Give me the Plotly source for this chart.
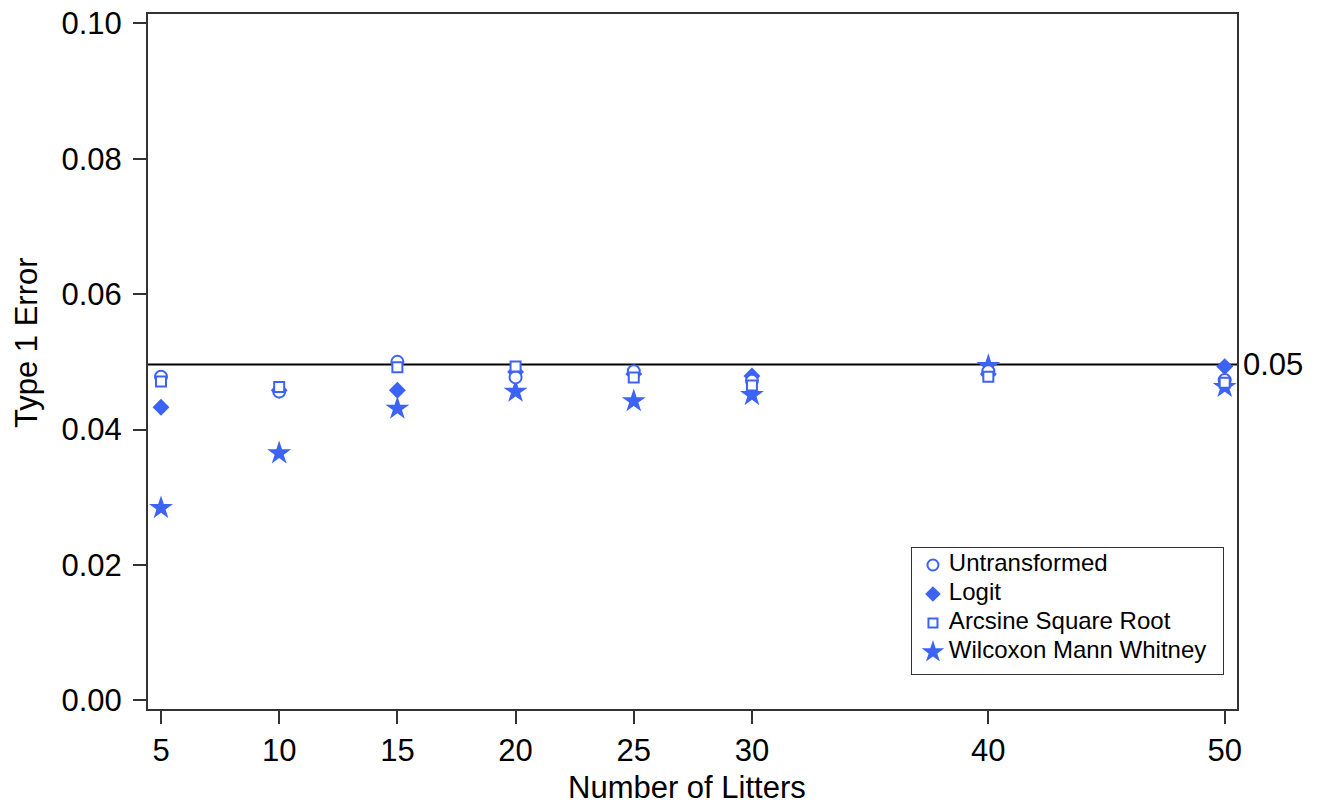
import plotly.graph_objects as go

# ---------------- data ----------------
litters = [5, 10, 15, 20, 25, 30, 40, 50]
untransformed = [0.0478, 0.0456, 0.0500, 0.0477, 0.0486, 0.0472, 0.0486, 0.0473]
logit = [0.0433, 0.0458, 0.0458, 0.0485, 0.0482, 0.0479, 0.0482, 0.0493]
arcsine = [0.0471, 0.0463, 0.0492, 0.0493, 0.0477, 0.0465, 0.0478, 0.0469]
wilcoxon = [0.0284, 0.0365, 0.0431, 0.0456, 0.0442, 0.0451, 0.0494, 0.0463]

series_names = ["Untransformed", "Logit", "Arcsine Square Root", "Wilcoxon Mann Whitney"]

x_ticks = [5, 10, 15, 20, 25, 30, 40, 50]
y_ticks = [0.00, 0.02, 0.04, 0.06, 0.08, 0.10]
ref_level = 0.0496
ref_label = "0.05"
x_title = "Number of Litters"
y_title = "Type 1 Error"

# ---------------- styles ----------------
BLUE = "#3D63F5"
FONT = "Liberation Sans, Arial, Helvetica, sans-serif"
styles = {
    "Untransformed": dict(symbol="circle", size=12, color="white", lw=2),
    "Logit": dict(symbol="diamond", size=13, color=BLUE, lw=0),
    "Arcsine Square Root": dict(symbol="square", size=10, color="white", lw=2),
    "Wilcoxon Mann Whitney": dict(symbol="star", size=18, color=BLUE, lw=0),
}
values = {
    "Untransformed": untransformed,
    "Logit": logit,
    "Arcsine Square Root": arcsine,
    "Wilcoxon Mann Whitney": wilcoxon,
}
draw_order = ["Logit", "Wilcoxon Mann Whitney", "Untransformed", "Arcsine Square Root"]

fig = go.Figure()

for name in draw_order:
    st = styles[name]
    fig.add_trace(go.Scatter(
        x=litters, y=values[name], mode="markers", name=name, showlegend=False,
        marker=dict(symbol=st["symbol"], size=st["size"], color=st["color"], opacity=1,
                    line=dict(width=st["lw"], color=BLUE)),
        xaxis="x", yaxis="y",
    ))

# legend drawn as a small inset panel (rows = series names on a category axis)
fig.add_trace(go.Scatter(
    x=[0.0667] * len(series_names), y=series_names, mode="markers", showlegend=False,
    hoverinfo="skip",
    marker=dict(symbol=[styles[n]["symbol"] for n in series_names],
                size=[styles[n]["size"] - 1 for n in series_names],
                color=[styles[n]["color"] for n in series_names],
                opacity=1,
                line=dict(width=[styles[n]["lw"] for n in series_names], color=BLUE)),
    xaxis="x2", yaxis="y2",
))
fig.add_trace(go.Scatter(
    x=[0.118] * len(series_names), y=series_names, mode="text", showlegend=False,
    hoverinfo="skip", text=series_names, textposition="middle right",
    textfont=dict(size=24, color="black", family=FONT),
    xaxis="x2", yaxis="y2",
))

fig.add_shape(type="line", xref="paper", x0=0, x1=1, yref="y", y0=ref_level, y1=ref_level,
              line=dict(color="black", width=2), layer="below")
fig.add_annotation(xref="paper", x=1, xanchor="left", xshift=4, yref="y", y=ref_level,
                   yanchor="middle", text=ref_label, showarrow=False,
                   font=dict(size=31, color="black", family=FONT))

# axis titles
fig.add_annotation(xref="paper", x=0.4947, xanchor="center", yref="paper", y=0,
                   yanchor="middle", yshift=-78, text=x_title, showarrow=False,
                   font=dict(size=31, color="black", family=FONT))
fig.add_annotation(xref="paper", x=0, xanchor="center", xshift=-122, yref="paper", y=0.5266,
                   yanchor="middle", text=y_title, textangle=-90, showarrow=False,
                   font=dict(size=31, color="black", family=FONT))

axis_common = dict(
    showline=True, linecolor="#333333", linewidth=2, mirror=True,
    ticks="outside", ticklen=13, tickwidth=2, tickcolor="#333333",
    showgrid=False, zeroline=False, automargin=False, ticklabeloverflow="allow",
    tickfont=dict(size=31, color="black", family=FONT),
)

inset_axis = dict(
    showline=True, linecolor="#333333", linewidth=1, mirror=True,
    ticks="", showticklabels=False, showgrid=False, zeroline=False,
    automargin=False, fixedrange=True,
)

fig.update_layout(
    width=1318, height=802,
    margin=dict(l=140, r=89, t=6, b=101, autoexpand=False),
    plot_bgcolor="white", paper_bgcolor="white",
    font=dict(family=FONT, color="black"),
    showlegend=False,
    xaxis=dict(range=[4.45, 50.52], tickvals=x_ticks,
               ticktext=[str(v) for v in x_ticks], **axis_common),
    yaxis=dict(range=[-0.0013, 0.1014], tickvals=y_ticks, tickformat=".2f",
               ticklabelstandoff=5, **axis_common),
    xaxis2=dict(domain=[0.7018, 0.9868], anchor="y2", range=[0, 1], **inset_axis),
    yaxis2=dict(domain=[0.0504, 0.2312], anchor="x2", type="category",
                categoryorder="array", categoryarray=series_names,
                range=[3.759, -0.576], **inset_axis),
)

fig.write_html("out.html")
